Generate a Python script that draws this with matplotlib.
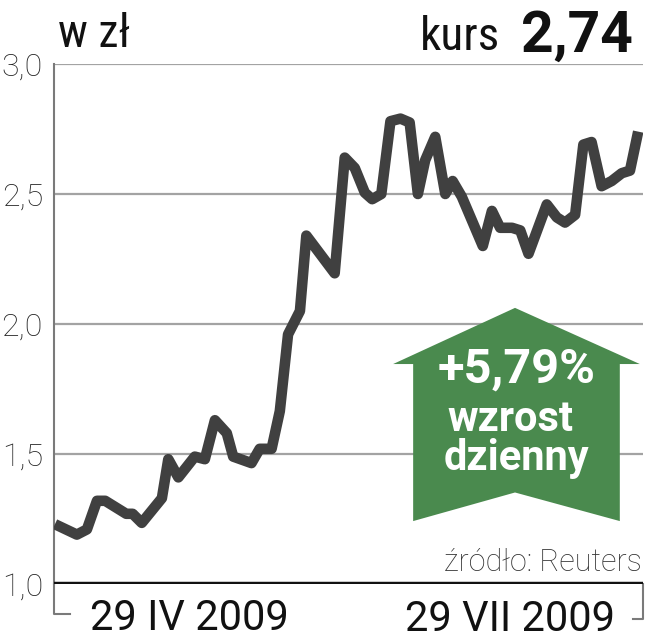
import matplotlib
matplotlib.use("Agg")
import matplotlib.pyplot as plt
from matplotlib.patches import Polygon

plt.rcParams['font.family'] = ['Roboto', 'DejaVu Sans']
COND = ['Roboto Condensed', 'DejaVu Sans']

# trading day position and closing price (zł)
days = [0.0, 2.4, 3.5, 4.6, 5.5, 7.8, 8.5, 9.5, 11.7, 12.4, 13.5, 15.3, 16.4,
        17.5, 18.8, 19.5, 21.5, 22.4, 23.7, 24.6, 25.5, 26.8, 27.5, 30.6,
        31.7, 32.8, 33.9, 34.7, 35.7, 36.7, 37.8, 38.8, 39.7, 40.5, 41.6,
        42.7, 43.5, 44.5, 46.8, 47.8, 48.7, 50.0, 50.9, 51.8, 53.8, 54.9,
        55.8, 56.9, 57.8, 58.7, 59.8, 60.9, 62.0, 62.9, 63.8]
prices = [1.23, 1.19, 1.21, 1.32, 1.32, 1.27, 1.27, 1.235, 1.33, 1.48, 1.41,
          1.49, 1.48, 1.63, 1.58, 1.49, 1.465, 1.52, 1.52, 1.665, 1.96, 2.05,
          2.34, 2.195, 2.64, 2.60, 2.505, 2.48, 2.50, 2.78, 2.79, 2.775, 2.50,
          2.63, 2.72, 2.50, 2.55, 2.49, 2.30, 2.435, 2.37, 2.37, 2.36, 2.27,
          2.46, 2.41, 2.39, 2.42, 2.69, 2.70, 2.53, 2.55, 2.58, 2.59, 2.74]
y_ticks = [1.0, 1.5, 2.0, 2.5, 3.0]
y_labels = ["1,0", "1,5", "2,0", "2,5", "3,0"]
start_label = "29 IV 2009"
end_label = "29 VII 2009"
change_text = "+5,79%"
last_price = "2,74"

fig = plt.figure(figsize=(6.46, 6.40), dpi=100)
ax = fig.add_axes([0.0836, 0.0875, 0.9114, 0.8125])

for v in y_ticks[1:]:
    ax.axhline(v, color="#a3a3a3", lw=1.6, zorder=1)
ax.axhline(1.0, color="#111111", lw=3.2, zorder=4)

ax.plot(days, prices, color="#404040", lw=7.6, solid_joinstyle="round",
        solid_capstyle="butt", zorder=3)

ax.set_xlim(-0.1, 64.3)
ax.set_ylim(1.0, 3.0)
for s in ["top", "right", "bottom"]:
    ax.spines[s].set_visible(False)
ax.spines["left"].set_color("#7a7a7a")
ax.spines["left"].set_linewidth(1.5)
ax.set_xticks([])
ax.set_yticks(y_ticks)
ax.set_yticklabels(y_labels, fontsize=23, fontweight="light", color="#222222")
ax.tick_params(axis="y", length=0, pad=8)

# bracket under the x axis
ax.plot([0.0, 0.0, 0.028], [0.0, -0.058, -0.058], transform=ax.transAxes,
        color="#7a7a7a", lw=1.5, clip_on=False)
ax.plot([1.0, 1.0, 0.983], [0.0, -0.068, -0.068], transform=ax.transAxes,
        color="#7a7a7a", lw=1.5, clip_on=False)
ax.text(0.23, -0.088, start_label, transform=ax.transAxes, ha="center",
        va="baseline", fontsize=30, color="#111111")
ax.text(0.774, -0.09, end_label, transform=ax.transAxes, ha="center",
        va="baseline", fontsize=30, color="#111111")

# green arrow
arrow = Polygon([(0.576, 0.423), (0.783, 0.531), (0.995, 0.423),
                 (0.961, 0.423), (0.961, 0.121), (0.783, 0.176),
                 (0.610, 0.121), (0.610, 0.423)],
                closed=True, transform=ax.transAxes, facecolor="#4a8a4e",
                edgecolor="none", zorder=5)
ax.add_patch(arrow)
ax.text(0.785, 0.387, change_text, transform=ax.transAxes, ha="center",
        va="baseline", fontsize=35, fontweight="bold", color="white", zorder=6)
ax.text(0.776, 0.294, "wzrost", transform=ax.transAxes, ha="center",
        va="baseline", fontsize=30, fontweight="bold", color="white", zorder=6)
ax.text(0.785, 0.219, "dzienny", transform=ax.transAxes, ha="center",
        va="baseline", fontsize=30, fontweight="bold", color="white", zorder=6)

ax.text(0.999, 0.025, "źródło: Reuters", transform=ax.transAxes, ha="right",
        va="baseline", fontsize=22, fontweight="light", color="#333333")

fig.text(0.09, 0.9266, "w zł", ha="left", va="baseline", fontsize=33,
         family=COND, color="#111111")
fig.text(0.774, 0.922, "kurs", ha="right", va="baseline", fontsize=34,
         family=COND, color="#111111")
fig.text(0.98, 0.919, last_price, ha="right", va="baseline", fontsize=41,
         fontweight="bold", color="#111111")

fig.savefig("out.png", dpi=100)
